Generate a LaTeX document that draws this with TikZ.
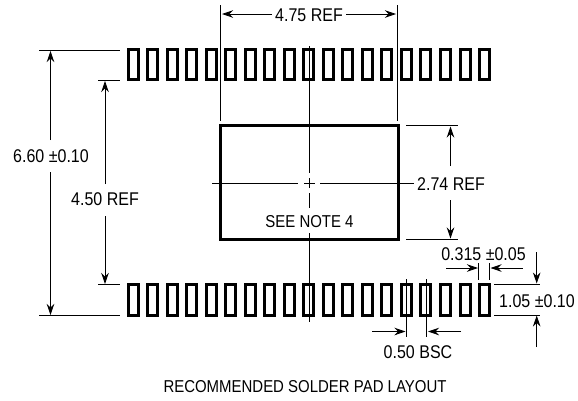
\documentclass[tikz,border=0pt]{standalone}
\usepackage{fontspec}
\setmainfont[FakeStretch=0.87]{Liberation Sans}
\usetikzlibrary{arrows.meta}
\tikzset{
  x=1pt,y=-1pt,
  thinline/.style={line width=0.85pt,black},
  dimarrow/.style={thinline,-{Stealth[length=11pt,width=7.5pt]}},
  pad/.style={draw=black,line width=3pt,minimum width=10pt,minimum height=30.5pt,inner sep=0pt,outer sep=0pt},
  body/.style={draw=black,line width=2.8pt,minimum width=178pt,minimum height=113.5pt,inner sep=0pt,outer sep=0pt},
  lab/.style={inner sep=0pt,font=\fontsize{18.4}{20}\selectfont,text=black},
  smalllab/.style={inner sep=0pt,font=\fontsize{17.2}{19}\selectfont,text=black},
}
\begin{document}
\begin{tikzpicture}
\useasboundingbox (0,0) rectangle (578,400);
% pads
\foreach \i in {1,...,19}{
  \pgfmathsetmacro{\px}{133+19.53*(\i-1)}
  \node[pad] (t\i) at (\px,64.5) {};
  \node[pad] (b\i) at (\px,300) {};
}
\node[body] (pkg) at (309.5,182.5) {};
% labels
\node[lab] (l660) at (51,156) {6.60 ±0.10};
\node[lab] (l450) at (105,199) {4.50 REF};
\node[lab] (l475) at (309,15) {4.75 REF};
\node[lab] (l274) at (451,184) {2.74 REF};
\node[smalllab] (lnote) at (309.5,222) {SEE NOTE 4};
\node[lab] (l315) at (483.5,254) {0.315 ±0.05};
\node[lab] (l105) at (537,301) {1.05 ±0.10};
\node[lab] (l050) at (418,352) {0.50 BSC};
\node[smalllab] (ltitle) at (305,387) {RECOMMENDED SOLDER PAD LAYOUT};
% extension lines
\coordinate (e1a) at (39,50.5);   \coordinate (e1b) at (120,50.5);
\coordinate (e2a) at (98,80.5);   \coordinate (e2b) at (120,80.5);
\coordinate (e3a) at (98,284.5);  \coordinate (e3b) at (120,284.5);
\coordinate (e4a) at (39,315.5);  \coordinate (e4b) at (120,315.5);
\draw[thinline] (e1a)--(e1b) (e2a)--(e2b) (e3a)--(e3b) (e4a)--(e4b);
\coordinate (e5a) at (220.5,5);   \coordinate (e5b) at (220.5,121);
\coordinate (e6a) at (397.5,5);   \coordinate (e6b) at (397.5,121);
\draw[thinline] (e5a)--(e5b) (e6a)--(e6b);
\coordinate (e7a) at (406,125.5); \coordinate (e7b) at (458,125.5);
\coordinate (e8a) at (406,239);   \coordinate (e8b) at (458,239);
\draw[thinline] (e7a)--(e7b) (e8a)--(e8b);
\coordinate (e9a) at (478.7,263); \coordinate (e9b) at (478.7,280);
\coordinate (e10a) at (489.5,263);\coordinate (e10b) at (489.5,280);
\draw[thinline] (e9a)--(e9b) (e10a)--(e10b);
\coordinate (e11a) at (494,284);  \coordinate (e11b) at (540,284);
\coordinate (e12a) at (494,315);  \coordinate (e12b) at (540,315);
\draw[thinline] (e11a)--(e11b) (e12a)--(e12b);
\coordinate (e13a) at (406.5,279);\coordinate (e13b) at (406.5,337);
\coordinate (e14a) at (426.5,279);\coordinate (e14b) at (426.5,337);
\draw[thinline] (e13a)--(e13b) (e14a)--(e14b);
% centre lines
\coordinate (cv1) at (309.5,46);  \coordinate (cv2) at (309.5,173);
\coordinate (cv3) at (309.5,178); \coordinate (cv4) at (309.5,188);
\coordinate (cv5) at (309.5,193); \coordinate (cv6) at (309.5,208);
\coordinate (cv7) at (309.5,233); \coordinate (cv8) at (309.5,322);
\draw[thinline] (cv1)--(cv2) (cv3)--(cv4) (cv5)--(cv6) (cv7)--(cv8);
\coordinate (ch1) at (212,183);   \coordinate (ch2) at (298,183);
\coordinate (ch3) at (304,183);   \coordinate (ch4) at (315,183);
\coordinate (ch5) at (320,183);   \coordinate (ch6) at (414,183);
\draw[thinline] (ch1)--(ch2) (ch3)--(ch4) (ch5)--(ch6);
% dimension arrows
\coordinate (a1a) at (50.5,140);  \coordinate (a1b) at (50.5,51);
\coordinate (a2a) at (50.5,172);  \coordinate (a2b) at (50.5,315);
\draw[dimarrow] (a1a)--(a1b); \draw[dimarrow] (a2a)--(a2b);
\coordinate (a3a) at (105,184);   \coordinate (a3b) at (105,81);
\coordinate (a4a) at (105,216);   \coordinate (a4b) at (105,284);
\draw[dimarrow] (a3a)--(a3b); \draw[dimarrow] (a4a)--(a4b);
\coordinate (a5a) at (272,14);    \coordinate (a5b) at (222,14);
\coordinate (a6a) at (346,14);    \coordinate (a6b) at (396,14);
\draw[dimarrow] (a5a)--(a5b); \draw[dimarrow] (a6a)--(a6b);
\coordinate (a7a) at (450.5,166); \coordinate (a7b) at (450.5,126.5);
\coordinate (a8a) at (450.5,200); \coordinate (a8b) at (450.5,238.5);
\draw[dimarrow] (a7a)--(a7b); \draw[dimarrow] (a8a)--(a8b);
\coordinate (a9a) at (446,268);   \coordinate (a9b) at (478,268);
\coordinate (a10a) at (522.7,268);\coordinate (a10b) at (490.5,268);
\draw[dimarrow] (a9a)--(a9b); \draw[dimarrow] (a10a)--(a10b);
\coordinate (a11a) at (536.7,252);\coordinate (a11b) at (536.7,283.5);
\coordinate (a12a) at (536.7,347);\coordinate (a12b) at (536.7,315.5);
\draw[dimarrow] (a11a)--(a11b); \draw[dimarrow] (a12a)--(a12b);
\coordinate (a13a) at (372,331.5);\coordinate (a13b) at (405.5,331.5);
\coordinate (a14a) at (461,331.5);\coordinate (a14b) at (428,331.5);
\draw[dimarrow] (a13a)--(a13b); \draw[dimarrow] (a14a)--(a14b);
\end{tikzpicture}
\end{document}
